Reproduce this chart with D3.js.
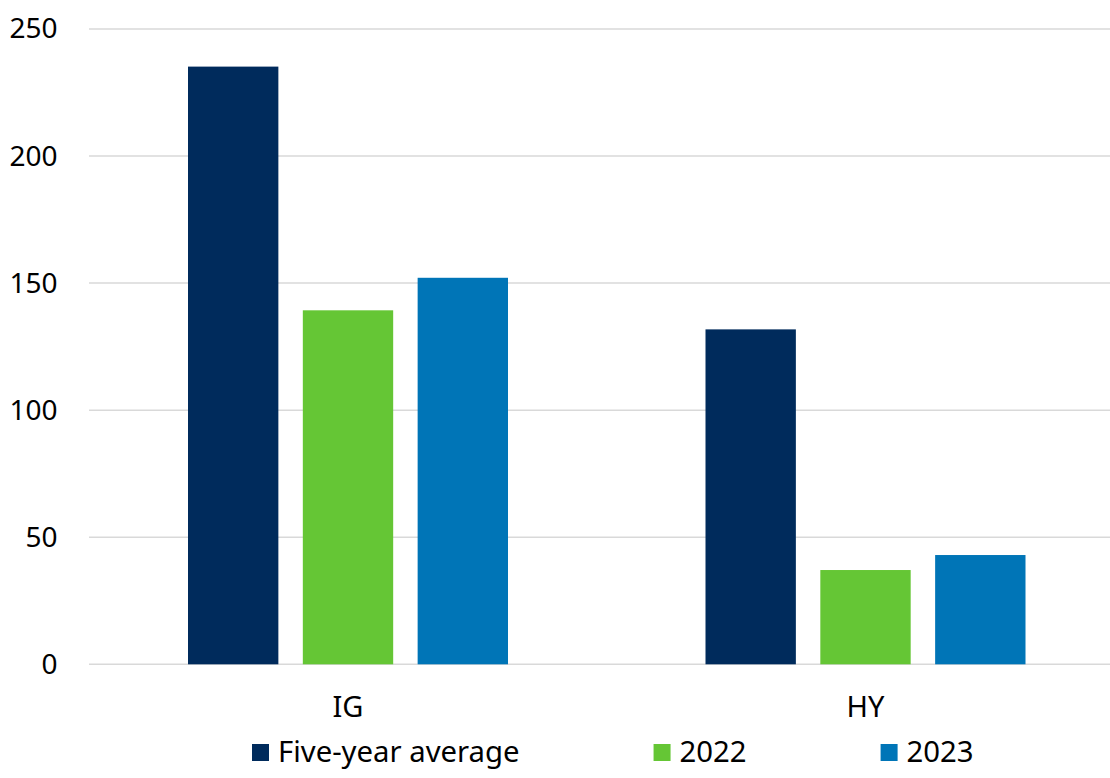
<!DOCTYPE html>
<html>
<head>
<meta charset="utf-8">
<script src="https://cdn.jsdelivr.net/npm/d3@7"></script>
<style>
  html, body { margin: 0; padding: 0; background: #fff; }
  svg { display: block; font-family: "Noto Sans", "Open Sans", sans-serif; }
</style>
</head>
<body>
<svg id="chart" width="1110" height="778"></svg>
<script>
// Issuance by segment
const categories = ["IG", "HY"];
const seriesNames = ["Five-year average", "2022", "2023"];
const fiveYearAverage = [235.2, 131.8];
const values2022 = [139.3, 37.1];
const values2023 = [152.1, 43.0];
const yTicks = [0, 50, 100, 150, 200, 250];

const seriesValues = [fiveYearAverage, values2022, values2023];
const colors = ["#002b5c", "#65c635", "#0075b7"];

const svg = d3.select("#chart");

const plot = { left: 89, right: 1124, top: 29, bottom: 664.3 };

const y = d3.scaleLinear().domain([0, 250]).range([plot.bottom, plot.top]);
const x0 = d3.scaleBand().domain(categories).range([plot.left, plot.right]).padding(0);
// bars inside each category band
const groupInset = 99, groupWidth = 320;
const x1 = d3.scaleBand().domain(seriesNames)
  .range([groupInset, groupInset + groupWidth])
  .paddingInner(0.213).paddingOuter(0);

// gridlines
svg.append("g").selectAll("line").data(yTicks).join("line")
  .attr("x1", plot.left).attr("x2", plot.right)
  .attr("y1", d => y(d)).attr("y2", d => y(d))
  .attr("stroke", "#d9d9d9").attr("stroke-width", 1.5);

// y tick labels
const yAxis = d3.axisLeft(y).tickValues(yTicks).tickSize(0).tickPadding(0);
const gy = svg.append("g").attr("transform", "translate(57.5,0)").call(yAxis);
gy.select(".domain").remove();
gy.selectAll("text").attr("font-size", 28).attr("fill", "#000")
  .attr("font-family", "'Noto Sans', sans-serif");

// bars
const groups = svg.append("g").selectAll("g").data(categories).join("g")
  .attr("transform", d => `translate(${x0(d)},0)`);
groups.selectAll("rect")
  .data((c, ci) => seriesNames.map((s, si) => ({ s, si, v: seriesValues[si][ci] })))
  .join("rect")
  .attr("x", d => x1(d.s))
  .attr("width", x1.bandwidth())
  .attr("y", d => y(d.v))
  .attr("height", d => y(0) - y(d.v))
  .attr("fill", d => colors[d.si]);

// category labels, centred under each bar group
const xAxis = d3.axisBottom(x0).tickSize(0).tickPadding(0);
const gx = svg.append("g")
  .attr("transform", `translate(${groupInset + groupWidth / 2 - x0.bandwidth() / 2},0)`)
  .call(xAxis);
gx.select(".domain").remove();
gx.selectAll("text").attr("font-size", 29).attr("fill", "#000")
  .attr("font-family", "'Noto Sans', sans-serif")
  .attr("dy", null).attr("y", 717);

// legend
const legend = svg.append("g");
let lx = 252;
seriesNames.forEach((name, i) => {
  legend.append("rect").attr("x", lx).attr("y", 744).attr("width", 17).attr("height", 17)
    .attr("fill", colors[i]);
  const t = legend.append("text").attr("x", lx + 26).attr("y", 762)
    .attr("font-size", 29.3).attr("fill", "#000").text(name);
  const w = t.node().getComputedTextLength();
  lx = lx + 26 + w + 134;
});
</script>
</body>
</html>
